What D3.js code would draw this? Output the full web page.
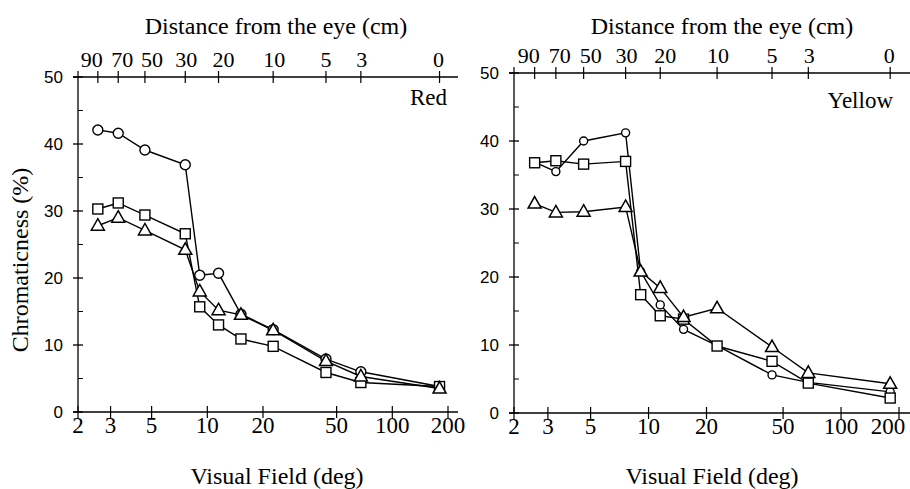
<!DOCTYPE html>
<html>
<head>
<meta charset="utf-8">
<script src="https://cdn.jsdelivr.net/npm/d3@7"></script>
<style>
  body { margin: 0; background: #fff; }
  svg { display: block; }
  .serif { font-family: "Liberation Serif", "Times New Roman", serif; }
  .sans { font-family: "Liberation Sans", Arial, sans-serif; }
</style>
</head>
<body>
<svg width="910" height="489"></svg>
<script>
// Visual field (deg) of each measured point; same for both panels.
var fieldDeg = [2.56, 3.3, 4.6, 7.6, 9.1, 11.5, 15.2, 22.7, 43.8, 67.6, 180];

// Top axis: distance from the eye (cm) and where it sits in visual field.
var distLabels = [90, 70, 50, 30, 20, 10, 5, 3, 0];
var distDeg = [2.56, 3.3, 4.6, 7.6, 11.5, 22.7, 43.8, 67.6, 180];

var fieldTicks = [2, 3, 5, 10, 20, 50, 100, 200];
var yMajor = [0, 10, 20, 30, 40, 50];
var yMinor = [5, 15, 25, 35, 45];

// Chromaticness (%) -- Red
var redCircle   = [42.1, 41.6, 39.1, 36.9, 20.4, 20.7, 14.6, 12.3, 7.9, 6.0, 3.8];
var redSquare   = [30.3, 31.2, 29.4, 26.6, 15.7, 13.0, 10.9, 9.8, 5.9, 4.4, 3.8];
var redTriangle = [27.8, 29.0, 27.1, 24.2, 18.0, 15.2, 14.5, 12.2, 7.6, 5.3, 3.5];

// Chromaticness (%) -- Yellow
var yellowCircle   = [36.9, 35.5, 40.0, 41.2, 20.8, 15.9, 12.3, 9.9, 5.6, 4.5, 3.1];
var yellowSquare   = [36.8, 37.1, 36.6, 37.0, 17.4, 14.3, 13.8, 9.85, 7.6, 4.4, 2.2];
var yellowTriangle = [30.8, 29.5, 29.6, 30.3, 20.8, 18.4, 14.1, 15.4, 9.7, 5.9, 4.3];

var svg = d3.select("svg");

// small nudges so the crowded distance labels don't collide
var distNudge = [-6, 4, 7, 1, 5, 1, 0, 1, -1];

var panels = [
  { name: "Red", x0: 78, x1: 448, xEnd: 458, yBot: 412, yTop: 77,
    circles: redCircle, squares: redSquare, triangles: redTriangle,
    r: 5, nameX: 447, nameY: 105, titleX: 276, xTitleX: 277 },
  { name: "Yellow", x0: 514, x1: 899, xEnd: 910, yBot: 413, yTop: 73,
    circles: yellowCircle, squares: yellowSquare, triangles: yellowTriangle,
    r: 4, nameX: 893, nameY: 108, titleX: 722, xTitleX: 712 }
];

panels.forEach(function(p) {
  var x = d3.scaleLog().domain([2, 200]).range([p.x0, p.x1]);
  var y = d3.scaleLinear().domain([0, 50]).range([p.yBot, p.yTop]);
  var g = svg.append("g");

  // axis lines: left, bottom, top
  g.append("line").attr("x1", x(2)).attr("x2", x(2))
      .attr("y1", y(0)).attr("y2", y(50)).attr("stroke", "#000").attr("stroke-width", 1.3);
  [0, 50].forEach(function(v) {
    g.append("line").attr("x1", x(2) - 5).attr("x2", p.xEnd)
        .attr("y1", y(v)).attr("y2", y(v)).attr("stroke", "#000").attr("stroke-width", 1.3);
  });

  // y ticks
  g.selectAll(".ymaj").data(yMajor).enter().append("line")
      .attr("x1", x(2) - 5).attr("x2", x(2) + 5)
      .attr("y1", function(d) { return y(d); }).attr("y2", function(d) { return y(d); })
      .attr("stroke", "#000").attr("stroke-width", 1.3);
  g.selectAll(".ymin").data(yMinor).enter().append("line")
      .attr("x1", x(2)).attr("x2", x(2) + 5)
      .attr("y1", function(d) { return y(d); }).attr("y2", function(d) { return y(d); })
      .attr("stroke", "#000").attr("stroke-width", 1);
  g.selectAll(".ylab").data(yMajor).enter().append("text")
      .attr("class", "sans")
      .attr("x", x(2) - 15).attr("y", function(d) { return y(d) + 6; })
      .attr("text-anchor", "end").attr("font-size", 17)
      .text(function(d) { return d; });

  // bottom ticks (visual field)
  g.selectAll(".xt").data(fieldTicks).enter().append("line")
      .attr("x1", function(d) { return x(d); }).attr("x2", function(d) { return x(d); })
      .attr("y1", y(0) - 6).attr("y2", y(0) + 6)
      .attr("stroke", "#000").attr("stroke-width", 1.2);
  g.selectAll(".xl").data(fieldTicks).enter().append("text")
      .attr("class", "serif")
      .attr("x", function(d) { return Math.min(x(d), 888); }).attr("y", y(0) + 21)
      .attr("text-anchor", "middle").attr("font-size", 23)
      .text(function(d) { return d; });

  // top ticks (distance)
  g.selectAll(".tt").data(distDeg).enter().append("line")
      .attr("x1", function(d) { return x(d); }).attr("x2", function(d) { return x(d); })
      .attr("y1", y(50) - 6).attr("y2", y(50) + 6)
      .attr("stroke", "#000").attr("stroke-width", 1.2);
  g.append("line").attr("x1", x(2)).attr("x2", x(2))
      .attr("y1", y(50) - 6).attr("y2", y(50))
      .attr("stroke", "#000").attr("stroke-width", 1.2);
  g.selectAll(".tl").data(distLabels).enter().append("text")
      .attr("class", "serif")
      .attr("x", function(d, i) { return x(distDeg[i]) + distNudge[i]; }).attr("y", y(50) - 10)
      .attr("text-anchor", "middle").attr("font-size", 22)
      .text(function(d) { return d; });

  // titles
  g.append("text").attr("class", "serif")
      .attr("x", p.titleX).attr("y", 34).attr("text-anchor", "middle")
      .attr("font-size", 24).text("Distance from the eye (cm)");
  g.append("text").attr("class", "serif")
      .attr("x", p.xTitleX).attr("y", 484).attr("text-anchor", "middle")
      .attr("font-size", 24).text("Visual Field (deg)");
  g.append("text").attr("class", "serif")
      .attr("x", p.nameX).attr("y", p.nameY).attr("text-anchor", "end")
      .attr("font-size", 23).text(p.name);

  // series lines
  var line = d3.line()
      .x(function(d, i) { return x(fieldDeg[i]); })
      .y(function(d) { return y(d); });
  [p.circles, p.squares, p.triangles].forEach(function(s) {
    g.append("path").attr("d", line(s))
        .attr("fill", "none").attr("stroke", "#000").attr("stroke-width", 1.4);
  });

  // markers
  g.selectAll(".c").data(p.circles).enter().append("circle")
      .attr("cx", function(d, i) { return x(fieldDeg[i]); })
      .attr("cy", function(d) { return y(d); })
      .attr("r", p.r).attr("fill", "#fff").attr("stroke", "#000").attr("stroke-width", 1.4);
  g.selectAll(".s").data(p.squares).enter().append("rect")
      .attr("x", function(d, i) { return x(fieldDeg[i]) - 5; })
      .attr("y", function(d) { return y(d) - 5; })
      .attr("width", 10).attr("height", 10)
      .attr("fill", "#fff").attr("stroke", "#000").attr("stroke-width", 1.4);
  g.selectAll(".t").data(p.triangles).enter().append("path")
      .attr("d", function(d, i) {
        var cx = x(fieldDeg[i]), cy = y(d);
        return "M" + cx + "," + (cy - 7) + "L" + (cx + 6.5) + "," + (cy + 4.5) +
               "L" + (cx - 6.5) + "," + (cy + 4.5) + "Z";
      })
      .attr("fill", "#fff").attr("stroke", "#000").attr("stroke-width", 1.5);
});

// y axis title
svg.append("text").attr("class", "serif")
    .attr("transform", "translate(28,260) rotate(-90)")
    .attr("text-anchor", "middle").attr("font-size", 24)
    .text("Chromaticness (%)");
</script>
</body>
</html>
